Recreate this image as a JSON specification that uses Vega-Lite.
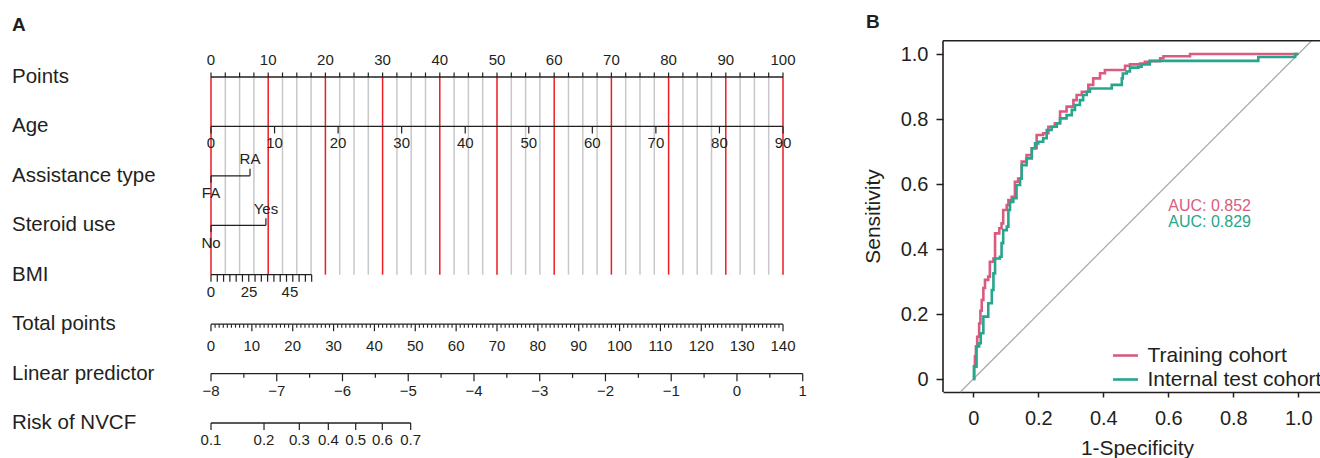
{
  "$schema": "https://vega.github.io/schema/vega-lite/v6.json",
  "padding": 0,
  "spacing": 123,
  "bounds": "flush",
  "config": {"font": "Liberation Sans", "text": {"color": "#231f20"}},
  "datasets": {
    "grid": [{"p":0,"major":true},{"p":2.5,"major":false},{"p":5,"major":false},{"p":7.5,"major":false},{"p":10,"major":true},{"p":12.5,"major":false},{"p":15,"major":false},{"p":17.5,"major":false},{"p":20,"major":true},{"p":22.5,"major":false},{"p":25,"major":false},{"p":27.5,"major":false},{"p":30,"major":true},{"p":32.5,"major":false},{"p":35,"major":false},{"p":37.5,"major":false},{"p":40,"major":true},{"p":42.5,"major":false},{"p":45,"major":false},{"p":47.5,"major":false},{"p":50,"major":true},{"p":52.5,"major":false},{"p":55,"major":false},{"p":57.5,"major":false},{"p":60,"major":true},{"p":62.5,"major":false},{"p":65,"major":false},{"p":67.5,"major":false},{"p":70,"major":true},{"p":72.5,"major":false},{"p":75,"major":false},{"p":77.5,"major":false},{"p":80,"major":true},{"p":82.5,"major":false},{"p":85,"major":false},{"p":87.5,"major":false},{"p":90,"major":true},{"p":92.5,"major":false},{"p":95,"major":false},{"p":97.5,"major":false},{"p":100,"major":true}],
    "axes": [{"row":0,"from":0,"to":100},{"row":1,"from":0,"to":100},{"row":2,"from":0,"to":6.82},{"row":3,"from":0,"to":9.6},{"row":4,"from":0,"to":17.6},{"row":5,"from":0,"to":100},{"row":6,"from":0,"to":103.44},{"row":7,"from":0,"to":34.91}],
    "pts": [{"row":2,"p":0,"dir":"down"},{"row":2,"p":6.82,"dir":"up"},{"row":3,"p":0,"dir":"down"},{"row":3,"p":9.6,"dir":"up"},
      {"row":4,"p":0,"dir":"down"},{"row":4,"p":1.1,"dir":"down"},{"row":4,"p":2.2,"dir":"down"},{"row":4,"p":3.3,"dir":"down"},{"row":4,"p":4.4,"dir":"down"},{"row":4,"p":5.5,"dir":"down"},{"row":4,"p":6.6,"dir":"down"},{"row":4,"p":7.7,"dir":"down"},{"row":4,"p":8.8,"dir":"down"},{"row":4,"p":9.9,"dir":"down"},{"row":4,"p":11,"dir":"down"},{"row":4,"p":12.1,"dir":"down"},{"row":4,"p":13.2,"dir":"down"},{"row":4,"p":14.3,"dir":"down"},{"row":4,"p":15.4,"dir":"down"},{"row":4,"p":16.5,"dir":"down"},{"row":4,"p":17.6,"dir":"down"},
      {"row":7,"p":0,"dir":"down"},{"row":7,"p":9.27,"dir":"down"},{"row":7,"p":15.44,"dir":"down"},{"row":7,"p":20.51,"dir":"down"},{"row":7,"p":25.3,"dir":"down"},{"row":7,"p":29.95,"dir":"down"},{"row":7,"p":34.91,"dir":"down"}],
    "lab": [{"row":0,"p":0,"text":"0","pos":"above"},{"row":0,"p":10,"text":"10","pos":"above"},{"row":0,"p":20,"text":"20","pos":"above"},{"row":0,"p":30,"text":"30","pos":"above"},{"row":0,"p":40,"text":"40","pos":"above"},{"row":0,"p":50,"text":"50","pos":"above"},{"row":0,"p":60,"text":"60","pos":"above"},{"row":0,"p":70,"text":"70","pos":"above"},{"row":0,"p":80,"text":"80","pos":"above"},{"row":0,"p":90,"text":"90","pos":"above"},{"row":0,"p":100,"text":"100","pos":"above"},
      {"row":2,"p":6.82,"text":"RA","pos":"above"},{"row":3,"p":9.6,"text":"Yes","pos":"above"},
      {"row":2,"p":0,"text":"FA","pos":"below"},{"row":3,"p":0,"text":"No","pos":"below"},
      {"row":4,"p":0,"text":"0","pos":"below"},{"row":4,"p":6.64,"text":"25","pos":"below"},{"row":4,"p":13.8,"text":"45","pos":"below"},
      {"row":7,"p":0,"text":"0.1","pos":"below"},{"row":7,"p":9.27,"text":"0.2","pos":"below"},{"row":7,"p":15.44,"text":"0.3","pos":"below"},{"row":7,"p":20.51,"text":"0.4","pos":"below"},{"row":7,"p":25.3,"text":"0.5","pos":"below"},{"row":7,"p":29.95,"text":"0.6","pos":"below"},{"row":7,"p":34.91,"text":"0.7","pos":"below"}],
    "age": [{"a":0},{"a":10},{"a":20},{"a":30},{"a":40},{"a":50},{"a":60},{"a":70},{"a":80},{"a":90}],
    "tot": [{"t":0},{"t":1},{"t":2},{"t":3},{"t":4},{"t":5},{"t":6},{"t":7},{"t":8},{"t":9},{"t":10},{"t":11},{"t":12},{"t":13},{"t":14},{"t":15},{"t":16},{"t":17},{"t":18},{"t":19},{"t":20},{"t":21},{"t":22},{"t":23},{"t":24},{"t":25},{"t":26},{"t":27},{"t":28},{"t":29},{"t":30},{"t":31},{"t":32},{"t":33},{"t":34},{"t":35},{"t":36},{"t":37},{"t":38},{"t":39},{"t":40},{"t":41},{"t":42},{"t":43},{"t":44},{"t":45},{"t":46},{"t":47},{"t":48},{"t":49},{"t":50},{"t":51},{"t":52},{"t":53},{"t":54},{"t":55},{"t":56},{"t":57},{"t":58},{"t":59},{"t":60},{"t":61},{"t":62},{"t":63},{"t":64},{"t":65},{"t":66},{"t":67},{"t":68},{"t":69},{"t":70},{"t":71},{"t":72},{"t":73},{"t":74},{"t":75},{"t":76},{"t":77},{"t":78},{"t":79},{"t":80},{"t":81},{"t":82},{"t":83},{"t":84},{"t":85},{"t":86},{"t":87},{"t":88},{"t":89},{"t":90},{"t":91},{"t":92},{"t":93},{"t":94},{"t":95},{"t":96},{"t":97},{"t":98},{"t":99},{"t":100},{"t":101},{"t":102},{"t":103},{"t":104},{"t":105},{"t":106},{"t":107},{"t":108},{"t":109},{"t":110},{"t":111},{"t":112},{"t":113},{"t":114},{"t":115},{"t":116},{"t":117},{"t":118},{"t":119},{"t":120},{"t":121},{"t":122},{"t":123},{"t":124},{"t":125},{"t":126},{"t":127},{"t":128},{"t":129},{"t":130},{"t":131},{"t":132},{"t":133},{"t":134},{"t":135},{"t":136},{"t":137},{"t":138},{"t":139},{"t":140}],
    "lp": [{"v":-8},{"v":-7.5},{"v":-7},{"v":-6.5},{"v":-6},{"v":-5.5},{"v":-5},{"v":-4.5},{"v":-4},{"v":-3.5},{"v":-3},{"v":-2.5},{"v":-2},{"v":-1.5},{"v":-1},{"v":-0.5},{"v":0},{"v":0.5},{"v":1}],
    "names": [{"row":0,"name":"Points"},{"row":1,"name":"Age"},{"row":2,"name":"Assistance type"},{"row":3,"name":"Steroid use"},{"row":4,"name":"BMI"},{"row":5,"name":"Total points"},{"row":6,"name":"Linear predictor"},{"row":7,"name":"Risk of NVCF"}],
    "roc": [
      {"cohort":"Training cohort","fpr":0,"tpr":0},{"cohort":"Training cohort","fpr":0.003,"tpr":0.04},{"cohort":"Training cohort","fpr":0.005,"tpr":0.07},{"cohort":"Training cohort","fpr":0.008,"tpr":0.1},{"cohort":"Training cohort","fpr":0.012,"tpr":0.13},{"cohort":"Training cohort","fpr":0.018,"tpr":0.171},{"cohort":"Training cohort","fpr":0.022,"tpr":0.21},{"cohort":"Training cohort","fpr":0.026,"tpr":0.243},{"cohort":"Training cohort","fpr":0.031,"tpr":0.28},{"cohort":"Training cohort","fpr":0.036,"tpr":0.305},{"cohort":"Training cohort","fpr":0.046,"tpr":0.315},{"cohort":"Training cohort","fpr":0.051,"tpr":0.361},{"cohort":"Training cohort","fpr":0.062,"tpr":0.371},{"cohort":"Training cohort","fpr":0.067,"tpr":0.448},{"cohort":"Training cohort","fpr":0.08,"tpr":0.464},{"cohort":"Training cohort","fpr":0.087,"tpr":0.479},{"cohort":"Training cohort","fpr":0.092,"tpr":0.52},{"cohort":"Training cohort","fpr":0.103,"tpr":0.535},{"cohort":"Training cohort","fpr":0.108,"tpr":0.551},{"cohort":"Training cohort","fpr":0.118,"tpr":0.561},{"cohort":"Training cohort","fpr":0.128,"tpr":0.607},{"cohort":"Training cohort","fpr":0.138,"tpr":0.617},{"cohort":"Training cohort","fpr":0.149,"tpr":0.669},{"cohort":"Training cohort","fpr":0.164,"tpr":0.689},{"cohort":"Training cohort","fpr":0.18,"tpr":0.71},{"cohort":"Training cohort","fpr":0.195,"tpr":0.751},{"cohort":"Training cohort","fpr":0.215,"tpr":0.756},{"cohort":"Training cohort","fpr":0.231,"tpr":0.776},{"cohort":"Training cohort","fpr":0.251,"tpr":0.787},{"cohort":"Training cohort","fpr":0.267,"tpr":0.823},{"cohort":"Training cohort","fpr":0.287,"tpr":0.838},{"cohort":"Training cohort","fpr":0.308,"tpr":0.858},{"cohort":"Training cohort","fpr":0.318,"tpr":0.874},{"cohort":"Training cohort","fpr":0.334,"tpr":0.884},{"cohort":"Training cohort","fpr":0.354,"tpr":0.905},{"cohort":"Training cohort","fpr":0.369,"tpr":0.925},{"cohort":"Training cohort","fpr":0.39,"tpr":0.941},{"cohort":"Training cohort","fpr":0.405,"tpr":0.951},{"cohort":"Training cohort","fpr":0.467,"tpr":0.964},{"cohort":"Training cohort","fpr":0.482,"tpr":0.968},{"cohort":"Training cohort","fpr":0.513,"tpr":0.971},{"cohort":"Training cohort","fpr":0.528,"tpr":0.976},{"cohort":"Training cohort","fpr":0.544,"tpr":0.978},{"cohort":"Training cohort","fpr":0.575,"tpr":0.987},{"cohort":"Training cohort","fpr":0.585,"tpr":0.993},{"cohort":"Training cohort","fpr":0.667,"tpr":1.0},{"cohort":"Training cohort","fpr":1.0,"tpr":1.0},
      {"cohort":"Internal test cohort","fpr":0,"tpr":0},{"cohort":"Internal test cohort","fpr":0.002,"tpr":0.038},{"cohort":"Internal test cohort","fpr":0.01,"tpr":0.1},{"cohort":"Internal test cohort","fpr":0.018,"tpr":0.11},{"cohort":"Internal test cohort","fpr":0.023,"tpr":0.141},{"cohort":"Internal test cohort","fpr":0.031,"tpr":0.192},{"cohort":"Internal test cohort","fpr":0.046,"tpr":0.233},{"cohort":"Internal test cohort","fpr":0.057,"tpr":0.274},{"cohort":"Internal test cohort","fpr":0.062,"tpr":0.325},{"cohort":"Internal test cohort","fpr":0.067,"tpr":0.371},{"cohort":"Internal test cohort","fpr":0.082,"tpr":0.376},{"cohort":"Internal test cohort","fpr":0.087,"tpr":0.418},{"cohort":"Internal test cohort","fpr":0.092,"tpr":0.458},{"cohort":"Internal test cohort","fpr":0.103,"tpr":0.469},{"cohort":"Internal test cohort","fpr":0.108,"tpr":0.52},{"cohort":"Internal test cohort","fpr":0.113,"tpr":0.545},{"cohort":"Internal test cohort","fpr":0.123,"tpr":0.556},{"cohort":"Internal test cohort","fpr":0.133,"tpr":0.597},{"cohort":"Internal test cohort","fpr":0.144,"tpr":0.617},{"cohort":"Internal test cohort","fpr":0.149,"tpr":0.658},{"cohort":"Internal test cohort","fpr":0.164,"tpr":0.679},{"cohort":"Internal test cohort","fpr":0.18,"tpr":0.71},{"cohort":"Internal test cohort","fpr":0.19,"tpr":0.725},{"cohort":"Internal test cohort","fpr":0.2,"tpr":0.73},{"cohort":"Internal test cohort","fpr":0.215,"tpr":0.741},{"cohort":"Internal test cohort","fpr":0.226,"tpr":0.766},{"cohort":"Internal test cohort","fpr":0.241,"tpr":0.776},{"cohort":"Internal test cohort","fpr":0.257,"tpr":0.787},{"cohort":"Internal test cohort","fpr":0.267,"tpr":0.802},{"cohort":"Internal test cohort","fpr":0.287,"tpr":0.812},{"cohort":"Internal test cohort","fpr":0.303,"tpr":0.828},{"cohort":"Internal test cohort","fpr":0.313,"tpr":0.843},{"cohort":"Internal test cohort","fpr":0.328,"tpr":0.858},{"cohort":"Internal test cohort","fpr":0.338,"tpr":0.874},{"cohort":"Internal test cohort","fpr":0.349,"tpr":0.884},{"cohort":"Internal test cohort","fpr":0.359,"tpr":0.894},{"cohort":"Internal test cohort","fpr":0.426,"tpr":0.905},{"cohort":"Internal test cohort","fpr":0.457,"tpr":0.925},{"cohort":"Internal test cohort","fpr":0.46,"tpr":0.94},{"cohort":"Internal test cohort","fpr":0.472,"tpr":0.946},{"cohort":"Internal test cohort","fpr":0.482,"tpr":0.958},{"cohort":"Internal test cohort","fpr":0.508,"tpr":0.961},{"cohort":"Internal test cohort","fpr":0.518,"tpr":0.968},{"cohort":"Internal test cohort","fpr":0.543,"tpr":0.979},{"cohort":"Internal test cohort","fpr":0.877,"tpr":0.991},{"cohort":"Internal test cohort","fpr":0.99,"tpr":1.0},{"cohort":"Internal test cohort","fpr":1.0,"tpr":1.0}
    ],
    "auc": [{"cohort":"Training cohort","fpr":0.6,"tpr":0.532,"label":"AUC: 0.852"},{"cohort":"Internal test cohort","fpr":0.6,"tpr":0.483,"label":"AUC: 0.829"}]
  },
  "hconcat": [
    {
      "width": 820,
      "height": 458,
      "view": {"stroke": null},
      "resolve": {"scale": {"x": "independent"}},
      "layer": [
        {"data": {"name": "grid"}, "transform": [{"filter": "!datum.major"}],
         "mark": {"type": "rule", "color": "#c8c8cb", "strokeWidth": 1.5},
         "encoding": {"x": {"field": "p", "type": "quantitative", "scale": {"domain": [-36.888, 106.469], "nice": false, "zero": false}, "axis": null},
                      "y": {"datum": 0, "type": "quantitative", "scale": {"domain": [-1.5578, 7.7081], "reverse": true, "nice": false, "zero": false}, "axis": null},
                      "y2": {"datum": 4}}},
        {"data": {"name": "grid"}, "transform": [{"filter": "datum.major"}],
         "mark": {"type": "rule", "color": "#ec1c24", "strokeWidth": 1.5},
         "encoding": {"x": {"field": "p", "type": "quantitative", "scale": {"domain": [-36.888, 106.469], "nice": false, "zero": false}, "axis": null},
                      "y": {"datum": 0, "type": "quantitative", "scale": {"domain": [-1.5578, 7.7081], "reverse": true, "nice": false, "zero": false}, "axis": null},
                      "y2": {"datum": 4}}},
        {"data": {"name": "axes"},
         "mark": {"type": "rule", "color": "#231f20", "strokeWidth": 1.3},
         "encoding": {"x": {"field": "from", "type": "quantitative", "scale": {"domain": [-36.888, 106.469], "nice": false, "zero": false}, "axis": null},
                      "x2": {"field": "to"},
                      "y": {"field": "row", "type": "quantitative", "scale": {"domain": [-1.5578, 7.7081], "reverse": true, "nice": false, "zero": false}, "axis": null}}},
        {"data": {"name": "grid"},
         "mark": {"type": "rule", "color": "#231f20", "strokeWidth": 1.2, "y2Offset": -4.5},
         "encoding": {"x": {"field": "p", "type": "quantitative", "scale": {"domain": [-36.888, 106.469], "nice": false, "zero": false}, "axis": null},
                      "y": {"datum": 0, "type": "quantitative", "scale": {"domain": [-1.5578, 7.7081], "reverse": true, "nice": false, "zero": false}, "axis": null},
                      "y2": {"datum": 0}}},
        {"data": {"name": "pts"}, "transform": [{"filter": "datum.dir == 'up'"}],
         "mark": {"type": "rule", "color": "#231f20", "strokeWidth": 1.2, "y2Offset": -7},
         "encoding": {"x": {"field": "p", "type": "quantitative", "scale": {"domain": [-36.888, 106.469], "nice": false, "zero": false}, "axis": null},
                      "y": {"field": "row", "type": "quantitative", "scale": {"domain": [-1.5578, 7.7081], "reverse": true, "nice": false, "zero": false}, "axis": null},
                      "y2": {"field": "row"}}},
        {"data": {"name": "pts"}, "transform": [{"filter": "datum.dir == 'down'"}],
         "mark": {"type": "rule", "color": "#231f20", "strokeWidth": 1.2, "y2Offset": 7},
         "encoding": {"x": {"field": "p", "type": "quantitative", "scale": {"domain": [-36.888, 106.469], "nice": false, "zero": false}, "axis": null},
                      "y": {"field": "row", "type": "quantitative", "scale": {"domain": [-1.5578, 7.7081], "reverse": true, "nice": false, "zero": false}, "axis": null},
                      "y2": {"field": "row"}}},
        {"data": {"name": "age"},
         "mark": {"type": "rule", "color": "#231f20", "strokeWidth": 1.2, "y2Offset": 7},
         "encoding": {"x": {"field": "a", "type": "quantitative", "scale": {"domain": [-33.199, 95.822], "nice": false, "zero": false}, "axis": null},
                      "y": {"datum": 1, "type": "quantitative", "scale": {"domain": [-1.5578, 7.7081], "reverse": true, "nice": false, "zero": false}, "axis": null},
                      "y2": {"datum": 1}}},
        {"data": {"name": "tot"}, "transform": [{"filter": "datum.t % 10 != 0"}],
         "mark": {"type": "rule", "color": "#231f20", "strokeWidth": 1.1, "y2Offset": 3.5},
         "encoding": {"x": {"field": "t", "type": "quantitative", "scale": {"domain": [-51.643, 149.056], "nice": false, "zero": false}, "axis": null},
                      "y": {"datum": 5, "type": "quantitative", "scale": {"domain": [-1.5578, 7.7081], "reverse": true, "nice": false, "zero": false}, "axis": null},
                      "y2": {"datum": 5}}},
        {"data": {"name": "tot"}, "transform": [{"filter": "datum.t % 10 == 0"}],
         "mark": {"type": "rule", "color": "#231f20", "strokeWidth": 1.2, "y2Offset": 7},
         "encoding": {"x": {"field": "t", "type": "quantitative", "scale": {"domain": [-51.643, 149.056], "nice": false, "zero": false}, "axis": null},
                      "y": {"datum": 5, "type": "quantitative", "scale": {"domain": [-1.5578, 7.7081], "reverse": true, "nice": false, "zero": false}, "axis": null},
                      "y2": {"datum": 5}}},
        {"data": {"name": "lp"}, "transform": [{"filter": "datum.v % 1 != 0"}],
         "mark": {"type": "rule", "color": "#231f20", "strokeWidth": 1.2, "y2Offset": 4.3},
         "encoding": {"x": {"field": "v", "type": "quantitative", "scale": {"domain": [-11.2094, 1.2632], "nice": false, "zero": false}, "axis": null},
                      "y": {"datum": 6, "type": "quantitative", "scale": {"domain": [-1.5578, 7.7081], "reverse": true, "nice": false, "zero": false}, "axis": null},
                      "y2": {"datum": 6}}},
        {"data": {"name": "lp"}, "transform": [{"filter": "datum.v % 1 == 0"}],
         "mark": {"type": "rule", "color": "#231f20", "strokeWidth": 1.2, "y2Offset": 7.7},
         "encoding": {"x": {"field": "v", "type": "quantitative", "scale": {"domain": [-11.2094, 1.2632], "nice": false, "zero": false}, "axis": null},
                      "y": {"datum": 6, "type": "quantitative", "scale": {"domain": [-1.5578, 7.7081], "reverse": true, "nice": false, "zero": false}, "axis": null},
                      "y2": {"datum": 6}}},
        {"data": {"name": "lab"}, "transform": [{"filter": "datum.pos == 'above'"}],
         "mark": {"type": "text", "fontSize": 15, "baseline": "middle", "align": "center", "dy": -16.5},
         "encoding": {"x": {"field": "p", "type": "quantitative", "scale": {"domain": [-36.888, 106.469], "nice": false, "zero": false}, "axis": null},
                      "y": {"field": "row", "type": "quantitative", "scale": {"domain": [-1.5578, 7.7081], "reverse": true, "nice": false, "zero": false}, "axis": null},
                      "text": {"field": "text"}}},
        {"data": {"name": "lab"}, "transform": [{"filter": "datum.pos == 'below'"}],
         "mark": {"type": "text", "fontSize": 15, "baseline": "middle", "align": "center", "dy": 17.5},
         "encoding": {"x": {"field": "p", "type": "quantitative", "scale": {"domain": [-36.888, 106.469], "nice": false, "zero": false}, "axis": null},
                      "y": {"field": "row", "type": "quantitative", "scale": {"domain": [-1.5578, 7.7081], "reverse": true, "nice": false, "zero": false}, "axis": null},
                      "text": {"field": "text"}}},
        {"data": {"name": "age"},
         "mark": {"type": "text", "fontSize": 15, "baseline": "middle", "align": "center", "dy": 17},
         "encoding": {"x": {"field": "a", "type": "quantitative", "scale": {"domain": [-33.199, 95.822], "nice": false, "zero": false}, "axis": null},
                      "y": {"datum": 1, "type": "quantitative", "scale": {"domain": [-1.5578, 7.7081], "reverse": true, "nice": false, "zero": false}, "axis": null},
                      "text": {"field": "a", "type": "quantitative"}}},
        {"data": {"name": "tot"}, "transform": [{"filter": "datum.t % 10 == 0"}],
         "mark": {"type": "text", "fontSize": 15, "baseline": "middle", "align": "center", "dy": 22},
         "encoding": {"x": {"field": "t", "type": "quantitative", "scale": {"domain": [-51.643, 149.056], "nice": false, "zero": false}, "axis": null},
                      "y": {"datum": 5, "type": "quantitative", "scale": {"domain": [-1.5578, 7.7081], "reverse": true, "nice": false, "zero": false}, "axis": null},
                      "text": {"field": "t", "type": "quantitative"}}},
        {"data": {"name": "lp"}, "transform": [{"filter": "datum.v % 1 == 0"}],
         "mark": {"type": "text", "fontSize": 15, "baseline": "middle", "align": "center", "dy": 17.7},
         "encoding": {"x": {"field": "v", "type": "quantitative", "scale": {"domain": [-11.2094, 1.2632], "nice": false, "zero": false}, "axis": null},
                      "y": {"datum": 6, "type": "quantitative", "scale": {"domain": [-1.5578, 7.7081], "reverse": true, "nice": false, "zero": false}, "axis": null},
                      "text": {"field": "v", "type": "quantitative", "format": "d"}}},
        {"data": {"name": "names"},
         "mark": {"type": "text", "fontSize": 20.5, "baseline": "middle", "align": "left"},
         "encoding": {"x": {"datum": -34.79, "type": "quantitative", "scale": {"domain": [-36.888, 106.469], "nice": false, "zero": false}, "axis": null},
                      "y": {"field": "row", "type": "quantitative", "scale": {"domain": [-1.5578, 7.7081], "reverse": true, "nice": false, "zero": false}, "axis": null},
                      "text": {"field": "name"}}},
        {"data": {"values": [{"panel": "A"}]},
         "mark": {"type": "text", "fontSize": 19, "fontWeight": "bold", "baseline": "middle", "align": "left"},
         "encoding": {"x": {"datum": -34.79, "type": "quantitative", "scale": {"domain": [-36.888, 106.469], "nice": false, "zero": false}, "axis": null},
                      "y": {"datum": -1.048, "type": "quantitative", "scale": {"domain": [-1.5578, 7.7081], "reverse": true, "nice": false, "zero": false}, "axis": null},
                      "text": {"field": "panel"}}}
      ]
    },
    {
      "width": 394,
      "height": 392,
      "view": {"stroke": null},
      "layer": [
        {"data": {"values": [{"k": 1}]},
         "mark": {"type": "rule", "color": "#a8a8a8", "strokeWidth": 1.2},
         "encoding": {"x": {"datum": -0.04, "type": "quantitative"}, "y": {"datum": -0.04, "type": "quantitative"}, "x2": {"datum": 1.0409}, "y2": {"datum": 1.0409}}},
        {"data": {"values": [{"k": 1}]},
         "mark": {"type": "rule", "color": "#231f20", "strokeWidth": 1.6},
         "encoding": {"x": {"datum": -0.0932, "type": "quantitative"}, "y": {"datum": -0.04, "type": "quantitative"}, "y2": {"datum": 1.0409}}},
        {"data": {"values": [{"k": 1}]},
         "mark": {"type": "rule", "color": "#231f20", "strokeWidth": 1.6},
         "encoding": {"x": {"datum": -0.0932, "type": "quantitative"}, "x2": {"datum": 1.1191}, "y": {"datum": 1.0409, "type": "quantitative"}}},
        {"data": {"name": "roc"},
         "mark": {"type": "line", "interpolate": "step-after", "strokeWidth": 2.6},
         "encoding": {
           "x": {"field": "fpr", "type": "quantitative", "scale": {"domain": [-0.0932, 1.1191], "nice": false, "zero": false},
                 "axis": {"values": [0, 0.2, 0.4, 0.6, 0.8, 1], "labelExpr": "datum.value == 0 ? '0' : format(datum.value, '.1f')", "title": "1-Specificity", "grid": false,
                          "tickSize": 5, "tickWidth": 1.5, "tickColor": "#231f20", "domainColor": "#231f20", "domainWidth": 1.6,
                          "labelFontSize": 20, "labelColor": "#231f20", "labelPadding": 11, "labelFlush": false,
                          "titleFontSize": 21, "titleFontWeight": "normal", "titleColor": "#231f20", "titleX": 194, "titleY": 56, "titleBaseline": "middle"}},
           "y": {"field": "tpr", "type": "quantitative", "scale": {"domain": [-0.04, 1.1662], "nice": false, "zero": false},
                 "axis": {"values": [0, 0.2, 0.4, 0.6, 0.8, 1], "labelExpr": "datum.value == 0 ? '0' : format(datum.value, '.1f')", "title": "Sensitivity", "grid": false, "domain": false,
                          "tickSize": 7, "tickWidth": 1.5, "tickColor": "#231f20",
                          "labelFontSize": 20, "labelColor": "#231f20", "labelPadding": 8, "labelFlush": false,
                          "titleFontSize": 21, "titleFontWeight": "normal", "titleColor": "#231f20", "titleX": -70, "titleY": 216, "titleAngle": 270, "titleAlign": "center", "titleBaseline": "middle"}},
           "color": {"field": "cohort", "type": "nominal",
                     "scale": {"domain": ["Training cohort", "Internal test cohort"], "range": ["#d95c80", "#26a68c"]},
                     "legend": {"orient": "none", "legendX": 1111.5, "legendY": 341.5, "title": null, "symbolType": "stroke", "symbolSize": 625, "symbolStrokeWidth": 2.6,
                                "labelFontSize": 21, "labelColor": "#231f20", "labelOffset": 8, "labelLimit": 400, "rowPadding": -2.3, "padding": 0}}
         }},
        {"data": {"name": "auc"},
         "mark": {"type": "text", "fontSize": 16, "align": "left", "baseline": "middle"},
         "encoding": {"x": {"field": "fpr", "type": "quantitative"}, "y": {"field": "tpr", "type": "quantitative"},
                      "text": {"field": "label"}, "color": {"field": "cohort", "type": "nominal"}}},
        {"data": {"values": [{"panel": "B"}]},
         "mark": {"type": "text", "fontSize": 19, "fontWeight": "bold", "baseline": "middle", "align": "left"},
         "encoding": {"x": {"datum": -0.33, "type": "quantitative"}, "y": {"datum": 1.0985, "type": "quantitative"}, "text": {"field": "panel"}}}
      ]
    }
  ]
}
